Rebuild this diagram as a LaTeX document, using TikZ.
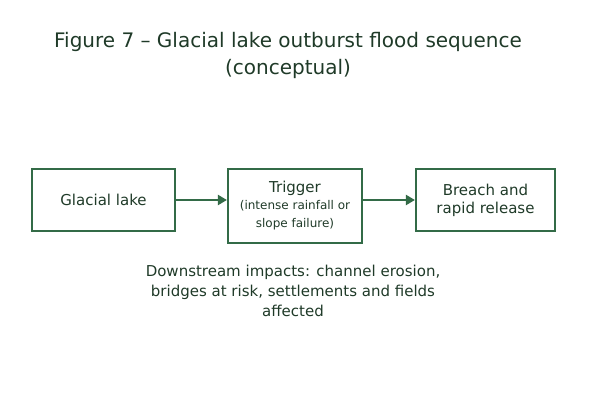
\documentclass[tikz,border=0pt]{standalone}
\usepackage{fontspec}
\setmainfont{DejaVu Sans}
\usetikzlibrary{arrows.meta}
\definecolor{bx}{HTML}{336B47}
\definecolor{tx}{HTML}{1F3A28}
\begin{document}
\begin{tikzpicture}[x=1pt,y=-1pt,
  box/.style={draw=bx,line width=2.2pt,text=tx,align=center,font=\fontsize{15}{18}\selectfont,inner sep=0pt},
  arr/.style={draw=bx,line width=2.6pt,-{Triangle[length=9pt,width=10pt]}},
  txt/.style={text=tx,align=center}]
\useasboundingbox (0,0) rectangle (600,400);
\node[txt,font=\fontsize{20}{27}\selectfont] (title) at (288,55) {Figure 7 – Glacial lake outburst flood sequence\\(conceptual)};
\node[box,minimum width=143pt,minimum height=62pt] (a) at (103.5,200) {Glacial lake};
\node[box,minimum width=134pt,minimum height=74pt] (b) at (295,206) {Trigger\\[-1pt]{\fontsize{12}{15}\selectfont (intense rainfall or}\\{\fontsize{12}{15}\selectfont slope failure)}};
\node[box,minimum width=139pt,minimum height=62pt] (c) at (485.5,200) {Breach and\\rapid release};
\draw[arr] (a.east) -- (b.west |- a.east);
\draw[arr] (b.east |- c.west) -- (c.west);
\node[txt,font=\fontsize{15}{20}\selectfont] (d) at (293,291) {Downstream impacts: channel erosion,\\bridges at risk, settlements and fields\\affected};
\end{tikzpicture}
\end{document}
